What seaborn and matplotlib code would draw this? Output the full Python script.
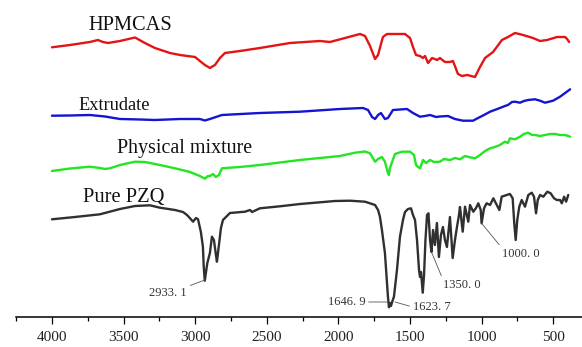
import matplotlib
matplotlib.use("Agg")
import matplotlib.pyplot as plt
import numpy as np
import pandas as pd
import seaborn as sns
from matplotlib.ticker import MultipleLocator

# ---------------- data ----------------
hpmcas_wn = [4000, 3874, 3735, 3679, 3644, 3609, 3525, 3420, 3351, 3281, 3176, 3106, 3001, 2967,
             2932, 2897, 2862, 2827, 2792, 2687, 2548, 2338, 2129, 2059, 1954, 1849, 1814, 1779,
             1744, 1723, 1710, 1689, 1661, 1570, 1535, 1500, 1479, 1458, 1430, 1410, 1395, 1374,
             1346, 1310, 1291, 1256, 1221, 1200, 1165, 1137, 1100, 1046, 1011, 976, 920, 858, 816,
             767, 711, 641, 592, 543, 473, 417, 403, 389]
hpmcas_t = [299.7, 302, 305, 307, 305, 304, 306, 309.5, 304, 299, 294, 292, 290, 286,
            282, 279, 282, 289, 294, 296, 299, 304, 306, 305, 309, 313, 311, 301,
            288, 292, 299, 310, 313, 313, 313, 309, 300, 292, 291, 289, 291, 284,
            289, 287, 289, 285, 285, 286, 273, 271, 272, 270, 280, 289, 295, 307, 310,
            314, 312, 309, 306, 307, 310, 310, 308, 305]

extr_wn = [4000, 3874, 3735, 3630, 3525, 3386, 3281, 3106, 2967, 2932, 2897, 2813, 2548, 2268,
           1989, 1828, 1793, 1765, 1744, 1723, 1703, 1675, 1654, 1619, 1570, 1521, 1479, 1430,
           1395, 1360, 1318, 1291, 1235, 1186, 1130, 1060, 1025, 983, 941, 872, 837, 816, 788,
           767, 732, 704, 676, 627, 592, 557, 501, 452, 417, 382]
extr_t = [231.3, 231.5, 232, 230.5, 228, 227.5, 227, 228, 228, 226.5, 228, 232, 234, 235.3,
          238, 239, 237, 230, 228, 232, 234, 228, 229, 237, 237.5, 238, 234, 230.3,
          231, 232, 230, 230.5, 231, 228, 226.3, 226.3, 229, 232, 235.3, 239, 241, 242, 245,
          245.3, 244.3, 246, 247, 247.7, 246.3, 244.3, 246.3, 250.3, 254, 257.7]

phys_wn = [4000, 3874, 3735, 3665, 3630, 3595, 3525, 3420, 3351, 3246, 3141, 3036, 2967, 2932,
           2911, 2897, 2876, 2855, 2834, 2813, 2687, 2548, 2268, 1989, 1884, 1814, 1779, 1744,
           1723, 1696, 1675, 1654, 1647, 1640, 1605, 1556, 1500, 1472, 1458, 1444, 1430, 1409,
           1388, 1360, 1332, 1291, 1263, 1221, 1186, 1151, 1116, 1081, 1046, 1011, 976, 941,
           907, 872, 837, 816, 802, 767, 732, 704, 676, 648, 627, 592, 557, 522, 487, 452, 417, 382]
phys_t = [176, 178.5, 180.3, 179, 178, 178.7, 182, 185.3, 185, 182, 178.7, 175, 171, 168.3,
          171, 171, 173, 170, 172, 178.7, 180, 182, 187, 191, 194.3, 195.5, 193.7, 185.3,
          188, 190, 185.3, 174, 172, 179, 193, 195.3, 195.3, 192, 182, 180, 178.7, 187,
          184, 187, 185, 185.3, 188, 187, 189, 187.7, 191, 189.7, 188.7, 192, 196, 198.7,
          200, 202, 205.3, 204, 208.7, 207.7, 210.3, 213, 214.3, 212, 212, 211, 212, 213, 213,
          212, 212, 210.3]

pzq_wn = [4000, 3839, 3665, 3525, 3420, 3316, 3246, 3141, 3085, 3057, 3036, 3015, 2994, 2980,
          2960, 2946, 2940, 2933, 2915, 2897, 2883, 2869, 2855, 2848, 2834, 2820, 2806, 2757,
          2652, 2617, 2603, 2548, 2408, 2268, 2129, 2024, 1919, 1814, 1765, 1744, 1723, 1710,
          1696, 1675, 1654, 1647, 1640, 1633, 1624, 1612, 1591, 1570, 1549, 1535, 1514, 1493,
          1479, 1465, 1451, 1437, 1430, 1423, 1411, 1402, 1392, 1381, 1371, 1360, 1350, 1339,
          1326, 1312, 1298, 1284, 1270, 1256, 1242, 1221, 1202, 1186, 1172, 1158, 1151, 1132,
          1116, 1093, 1081, 1058, 1039, 1023, 1006, 1000, 983, 965, 941, 918, 894, 876, 860,
          825, 802, 783, 772, 762, 751, 737, 720, 697, 674, 650, 634, 620, 608, 592, 569, 541,
          518, 494, 475, 452, 440, 424, 410, 395]
pzq_t = [127.7, 130, 132.7, 138, 141, 141.7, 139.3, 137, 135, 132, 128.7, 125.3, 129, 127.7,
         115, 100.3, 80, 66.3, 84, 94, 110.3, 107, 92, 85.3, 102, 119, 127, 134,
         135.3, 137, 135, 138.7, 140.7, 143, 144.7, 146, 146.3, 145.3, 143, 142, 137, 130.3,
         117, 94, 50.3, 39.7, 44, 41, 45.3, 50.3, 77, 110.3, 127, 135, 138, 138.7,
         132, 127, 107, 77, 70, 75, 54.3, 72, 107, 132, 133.7, 107, 95, 117,
         102, 124, 90, 112, 120, 107, 100, 130, 89, 107, 120, 132, 140, 115.3,
         140.3, 125.3, 142, 135.3, 139, 143.7, 137, 123.7, 138.7, 143.7, 142, 148.7, 142, 137, 150.3,
         152, 153, 148.7, 123.7, 107, 127, 140.3, 147, 140.3, 152, 154.3, 150.3, 133.7, 147, 152, 150.3, 155.3,
         153.7, 148.7, 147, 147, 143.7, 150.3, 145.3, 152]

series_names = ["HPMCAS", "Extrudate", "Physical mixture", "Pure PZQ"]
series_colors = ["#e41414", "#1414d2", "#22e622", "#303030"]

peak_labels = ["2933. 1", "1646. 9", "1623. 7", "1350. 0", "1000. 0"]
peak_wn = [2933, 1655, 1605, 1350, 1000]
peak_t = [67, 45, 45, 95, 123.7]

# ---------------- build frame ----------------
frames = []
for name, wn, t in [("HPMCAS", hpmcas_wn, hpmcas_t), ("Extrudate", extr_wn, extr_t),
                    ("Physical mixture", phys_wn, phys_t), ("Pure PZQ", pzq_wn, pzq_t)]:
    frames.append(pd.DataFrame({"wn": wn, "t": t, "series": name}))
df = pd.concat(frames, ignore_index=True)

sns.set_theme(style="white")
plt.rcParams["font.family"] = ["Liberation Serif", "DejaVu Serif"]

fig = plt.figure(figsize=(5.82, 3.47), dpi=100)
ax = fig.add_axes([16 / 582, (347 - 316.7) / 347, 1 - 16 / 582, 316.7 / 347])

sns.lineplot(data=df, x="wn", y="t", hue="series", hue_order=series_names,
             palette=dict(zip(series_names, series_colors)), linewidth=1.7,
             legend=False, ax=ax, estimator=None, sort=True)
for line in ax.get_lines():
    line.set_solid_joinstyle("round")

ax.set_xlim(4251, 299)
ax.set_ylim(30.3, 347)
ax.set_xlabel("")
ax.set_ylabel("")
ax.set_yticks([])
for s in ["left", "right", "top"]:
    ax.spines[s].set_visible(False)
ax.spines["bottom"].set_linewidth(1.1)
ax.spines["bottom"].set_color("black")
ax.xaxis.set_major_locator(MultipleLocator(500))
ax.xaxis.set_minor_locator(MultipleLocator(250))
ax.tick_params(axis="x", which="major", direction="out", bottom=True, length=5.2,
               width=0.9, pad=5, labelsize=11, color="black", labelcolor="#222222")
ax.tick_params(axis="x", which="minor", direction="out", bottom=True, length=3,
               width=0.9, color="black")

# series titles
ax.text(3455, 317, "HPMCAS", fontsize=14.7, ha="center", va="baseline", color="#111111")
ax.text(3564, 237, "Extrudate", fontsize=13.2, ha="center", va="baseline", color="#111111")
ax.text(3075, 193.5, "Physical mixture", fontsize=14.4, ha="center", va="baseline", color="#111111")
ax.text(3497, 145.3, "Pure PZQ", fontsize=14.8, ha="center", va="baseline", color="#111111")

# peak annotations
ann = [
    (0, (3057, 54.3), "right", "center", (1, 1)),
    (1, (1812, 45), "right", "center", (1, 0.5)),
    (2, (1481, 40), "left", "center", (0, 0.5)),
    (3, (1272, 62), "left", "center", (0, 1)),
    (4, (858, 93), "left", "center", (0, 1)),
]
for i, xyt, ha, va, rp in ann:
    ax.annotate(peak_labels[i], xy=(peak_wn[i], peak_t[i]), xytext=xyt, ha=ha, va=va,
                fontsize=9, color="#333333",
                arrowprops=dict(arrowstyle="-", color="#555555", lw=0.6,
                                shrinkA=0, shrinkB=0, relpos=rp))

fig.savefig("out.png", dpi=100)
